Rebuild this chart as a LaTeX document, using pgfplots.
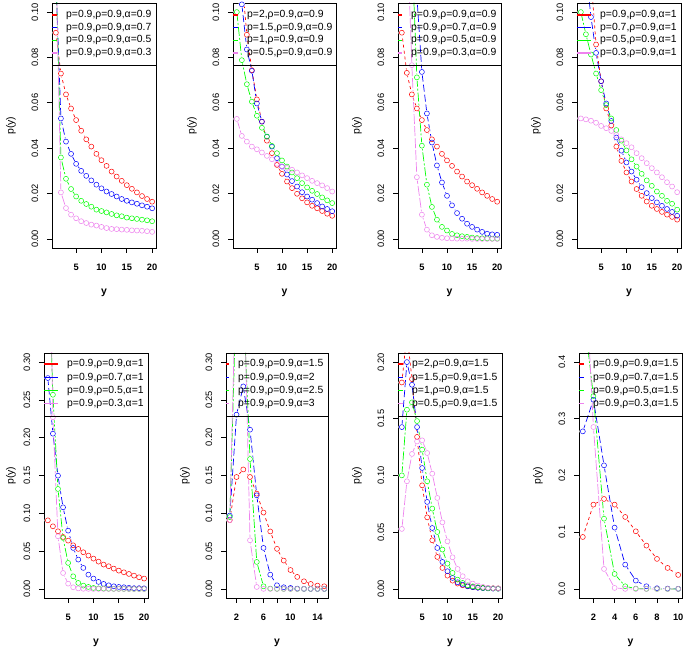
\documentclass[border=0pt]{standalone}
\usepackage{fontspec}
\setmainfont{Liberation Sans}
\usepackage{pgfplots}
\usepackage{pgfplotstable}
\pgfplotsset{compat=1.18}

\definecolor{rred}{HTML}{FF0000}
\definecolor{rblue}{HTML}{0000FF}
\definecolor{rgreen}{HTML}{00FF00}
\definecolor{rviolet}{HTML}{EE82EE}

\pgfplotstableread{
x a b c d
1 0.0909 0.115 0.12 0.125
2 0.0729 0.0531 0.0359 0.0205
3 0.0637 0.0429 0.0265 0.0136
4 0.0575 0.0375 0.0220 0.0107
5 0.0524 0.0331 0.0187 0.0091
6 0.0477 0.0300 0.0168 0.0078
7 0.0439 0.0278 0.0154 0.0070
8 0.0407 0.0258 0.0142 0.0063
9 0.0375 0.0239 0.0129 0.0059
10 0.0347 0.0223 0.0123 0.0053
11 0.0322 0.0209 0.0117 0.0048
12 0.0297 0.0198 0.0110 0.0044
13 0.0275 0.0187 0.0104 0.0043
14 0.0256 0.0176 0.0100 0.0041
15 0.0237 0.0168 0.0094 0.0040
16 0.0221 0.0161 0.0091 0.0038
17 0.0205 0.0155 0.0088 0.0037
18 0.0189 0.0148 0.0085 0.0036
19 0.0176 0.0142 0.0082 0.0034
20 0.0164 0.0135 0.0078 0.0031
}\tA

\pgfplotstableread{
x a b c d
1 0.14 0.125 0.100 0.0529
2 0.115 0.1034 0.0788 0.0454
3 0.090 0.0835 0.0682 0.0429
4 0.0744 0.0741 0.0605 0.0407
5 0.0615 0.0597 0.0543 0.0395
6 0.0517 0.0517 0.0490 0.0381
7 0.0433 0.0451 0.0451 0.0366
8 0.0378 0.0407 0.0410 0.0351
9 0.0326 0.0356 0.0378 0.0331
10 0.0287 0.0319 0.0346 0.0319
11 0.0253 0.0284 0.0319 0.0313
12 0.0224 0.0255 0.0293 0.0305
13 0.0199 0.0231 0.0268 0.0293
14 0.0179 0.0206 0.0246 0.0280
15 0.0161 0.0187 0.0227 0.0268
16 0.0146 0.0173 0.0212 0.0256
17 0.0135 0.0158 0.0198 0.0246
18 0.0123 0.0143 0.0183 0.0236
19 0.0111 0.0132 0.0170 0.0224
20 0.0102 0.0122 0.0158 0.0209
}\tB

\pgfplotstableread{
x a b c d
1 0.0909 0.12 0.13 0.15
2 0.0732 0.14 0.15 0.138
3 0.0637 0.13 0.128 0.0766
4 0.0575 0.107 0.0712 0.0272
5 0.0524 0.0736 0.0411 0.0107
6 0.0480 0.0553 0.0239 0.0041
7 0.0439 0.0425 0.0141 0.0016
8 0.0407 0.0324 0.0085 0.0009
9 0.0375 0.0249 0.0053 0.0005
10 0.0346 0.0190 0.0037 0.0003
11 0.0322 0.0148 0.0022 0.0002
12 0.0297 0.0114 0.0016 0.0001
13 0.0275 0.0089 0.0012 0.0001
14 0.0253 0.0067 0.0009 0.0001
15 0.0237 0.0053 0.0006 0
16 0.0221 0.0041 0.0004 0
17 0.0205 0.0031 0.0003 0
18 0.0190 0.0023 0.0002 0
19 0.0176 0.0020 0.0001 0
20 0.0164 0.0018 0.0001 0
}\tC

\pgfplotstableread{
x a b c d
1 0.16 0.135 0.100 0.0531
2 0.14 0.118 0.0902 0.0527
3 0.115 0.0978 0.0813 0.0521
4 0.0857 0.082 0.0729 0.0512
5 0.0695 0.0695 0.0656 0.0498
6 0.0575 0.0597 0.059 0.0488
7 0.0500 0.0520 0.0531 0.0476
8 0.0407 0.0447 0.048 0.0458
9 0.0344 0.0389 0.0433 0.0439
10 0.0293 0.0337 0.039 0.0422
11 0.0253 0.0297 0.0351 0.0404
12 0.0220 0.0261 0.0319 0.0378
13 0.0190 0.0228 0.0287 0.0356
14 0.0165 0.0202 0.0258 0.0334
15 0.0146 0.0180 0.0234 0.0312
16 0.0132 0.0161 0.0209 0.0293
17 0.0119 0.0146 0.0190 0.0272
18 0.0107 0.0132 0.0168 0.0250
19 0.0097 0.0119 0.0155 0.0231
20 0.0085 0.0102 0.0129 0.0206
}\tD

\pgfplotstableread{
x a b c d
1 0.0907 0.2789 0.45 0.6
2 0.0828 0.2053 0.2568 0.227
3 0.0762 0.1498 0.1322 0.0696
4 0.0687 0.1079 0.0674 0.0211
5 0.0639 0.0771 0.0344 0.0070
6 0.0577 0.0542 0.0167 0.0022
7 0.0529 0.0388 0.0079 0.0007
8 0.0485 0.0278 0.0044 0.0002
9 0.0441 0.0189 0.0026 0.0001
10 0.0401 0.0137 0.0013 0
11 0.0361 0.0093 0.0007 0
12 0.0322 0.0066 0.0004 0
13 0.0300 0.0048 0.0002 0
14 0.0269 0.0035 0.0001 0
15 0.0242 0.0026 0.0001 0
16 0.0220 0.0022 0 0
17 0.0198 0.0015 0 0
18 0.0176 0.0010 0 0
19 0.0154 0.0010 0 0
20 0.0137 0.0008 0 0
}\tE

\pgfplotstableread{
x a b c d
1 0.091 0.097 0.095 0.091
2 0.148 0.2304 0.40 0.45
3 0.158 0.2678 0.38 0.45
4 0.148 0.2106 0.1718 0.0643
5 0.126 0.1238 0.0357 0.0026
6 0.101 0.0542 0.0035 0.0001
7 0.076 0.0189 0.0004 0
8 0.053 0.0048 0.0001 0
9 0.0375 0.0022 0 0
10 0.025 0.0013 0 0
11 0.0159 0.0004 0 0
12 0.0101 0.0001 0 0
13 0.0066 0 0 0
14 0.0044 0 0 0
15 0.0035 0 0 0
}\tF

\pgfplotstableread{
x a b c d
1 0.182 0.1427 0.1001 0.0529
2 0.225 0.2000 0.158 0.0949
3 0.185 0.180 0.1645 0.119
4 0.134 0.1427 0.148 0.130
5 0.0913 0.1066 0.1228 0.131
6 0.0631 0.0767 0.0949 0.1198
7 0.0429 0.0537 0.0708 0.1016
8 0.0282 0.0361 0.0502 0.0802
9 0.0185 0.0238 0.0347 0.0587
10 0.0117 0.0156 0.0223 0.042
11 0.0073 0.0097 0.0141 0.0279
12 0.0047 0.0059 0.0082 0.0176
13 0.0032 0.0038 0.0053 0.0112
14 0.0023 0.0023 0.0032 0.0068
15 0.0015 0.0015 0.0023 0.0047
16 0.0012 0.0010 0.0015 0.0030
17 0.0009 0.0007 0.0009 0.0018
18 0.0007 0.0005 0.0006 0.0010
19 0.0006 0.0003 0.0004 0.0006
20 0.0005 0.0002 0.0002 0.0004
}\tG

\pgfplotstableread{
x a b c d
1 0.0916 0.2778 0.5 0.65
2 0.1486 0.3336 0.34 0.2855
3 0.1586 0.2179 0.1239 0.0352
4 0.1486 0.1081 0.0264 0.0018
5 0.1269 0.0429 0.0047 0.0001
6 0.1016 0.0147 0.0006 0
7 0.0764 0.0047 0.0001 0
8 0.0529 0.0012 0 0
9 0.037 0.0006 0 0
10 0.0247 0.0002 0 0
}\tH

\newcommand{\fourseries}[1]{%
  \addplot[rred, line width=0.7pt, dash pattern=on 3pt off 3pt] table[x=x,y=a]{#1};
  \addplot[rblue, line width=0.7pt, dash pattern=on 7pt off 3pt] table[x=x,y=b]{#1};
  \addplot[rgreen, line width=0.7pt, dash pattern=on 9pt off 2pt on 2pt off 2pt] table[x=x,y=c]{#1};
  \addplot[rviolet, line width=0.7pt, dash pattern=on 10pt off 2pt] table[x=x,y=d]{#1};
  \addplot[white, only marks, mark=*, mark size=3.3pt, mark options={draw=white, fill=white, line width=0.2pt}] table[x=x,y=a]{#1};
  \addplot[white, only marks, mark=*, mark size=3.3pt, mark options={draw=white, fill=white, line width=0.2pt}] table[x=x,y=b]{#1};
  \addplot[white, only marks, mark=*, mark size=3.3pt, mark options={draw=white, fill=white, line width=0.2pt}] table[x=x,y=c]{#1};
  \addplot[white, only marks, mark=*, mark size=3.3pt, mark options={draw=white, fill=white, line width=0.2pt}] table[x=x,y=d]{#1};
  \addplot[only marks, mark=o, mark size=2.5pt, rred, mark options={solid, line width=0.5pt}] table[x=x,y=a]{#1};
  \addplot[only marks, mark=o, mark size=2.5pt, rblue, mark options={solid, line width=0.5pt}] table[x=x,y=b]{#1};
  \addplot[only marks, mark=o, mark size=2.5pt, rgreen, mark options={solid, line width=0.5pt}] table[x=x,y=c]{#1};
  \addplot[only marks, mark=o, mark size=2.5pt, rviolet, mark options={solid, line width=0.5pt}] table[x=x,y=d]{#1};
}

% legend: #1 box left, #2 box right, #3 text x, #4 row, #5-#8 labels
\newcommand{\rlegend}[8]{%
  \ifnum#4=1
    \def\la{635}\def\lb{622.3}\def\lc{609.6}\def\ld{596.9}\def\lbot{585}%
  \else
    \def\la{286}\def\lb{272.5}\def\lc{259.5}\def\ld{246.5}\def\lbot{234}%
  \fi
  \pgfmathsetmacro\sl{max(#1,#3-29)}%
  \pgfmathsetmacro\sr{#3-9}%
  \draw[line width=0.75pt] (#1pt,\lbot pt) -- (#2pt,\lbot pt);
  \draw[rred, line width=1.6pt] (\sl pt,\la pt) -- (\sr pt,\la pt);
  \draw[rblue, line width=1.6pt] (\sl pt,\lb pt) -- (\sr pt,\lb pt);
  \draw[rgreen, line width=1.6pt] (\sl pt,\lc pt) -- (\sr pt,\lc pt);
  \draw[rviolet, line width=1.6pt] (\sl pt,\ld pt) -- (\sr pt,\ld pt);
  \node[anchor=west, inner sep=0pt, font=\fontsize{10.4}{12}\selectfont] at (#3pt,\la pt) {#5};
  \node[anchor=west, inner sep=0pt, font=\fontsize{10.4}{12}\selectfont] at (#3pt,\lb pt) {#6};
  \node[anchor=west, inner sep=0pt, font=\fontsize{10.4}{12}\selectfont] at (#3pt,\lc pt) {#7};
  \node[anchor=west, inner sep=0pt, font=\fontsize{10.4}{12}\selectfont] at (#3pt,\ld pt) {#8};
}

\pgfplotsset{
  rbase/.style={
    scale only axis, height=245pt, clip=true, axis on top,
    anchor=south west,
    axis line style={line width=0.75pt, black},
    tick align=outside, major tick length=5pt,
    xtick pos=left, ytick pos=left,
    every tick/.style={black, line width=0.75pt},
    yticklabel style={rotate=90, anchor=center, inner sep=0pt, font=\fontsize{9.3}{10}\selectfont},
    xticklabel style={anchor=center, inner sep=0pt, font=\bfseries\fontsize{9.3}{10}\selectfont},
    yticklabel shift=12pt, xticklabel shift=14pt,
    xlabel={y}, ylabel={p(y)},
    every axis x label/.style={at={(rel axis cs:0.5,0)}, yshift=-45pt, anchor=center, font=\bfseries\fontsize{10.4}{12}\selectfont},
    every axis y label/.style={at={(rel axis cs:0,0.5)}, xshift=-41pt, rotate=90, anchor=center, font=\fontsize{10.4}{12}\selectfont},
  },
  top/.style={rbase, ymin=-0.004, ymax=0.104, ytick={0,0.02,0.04,0.06,0.08,0.1},
    yticklabels={0.00,0.02,0.04,0.06,0.08,0.10}},
  x20/.style={xmin=0.24, xmax=20.76, xtick={5,10,15,20}, xticklabels={5,10,15,20}},
}

\begin{document}
\begin{tikzpicture}
\path[use as bounding box] (0,0) rectangle (685pt,650pt);
\clip (0,0) rectangle (685pt,650pt);

% ---------- row 1 ----------
\begin{axis}[top, x20, width=104pt, at={(52pt,402pt)}]
\fourseries{\tA}
\end{axis}
\rlegend{52}{156}{66}{1}{p=0.9,ρ=0.9,α=0.9}{p=0.9,ρ=0.9,α=0.7}{p=0.9,ρ=0.9,α=0.5}{p=0.9,ρ=0.9,α=0.3}

\begin{axis}[top, x20, width=103pt, at={(233pt,402pt)}]
\fourseries{\tB}
\end{axis}
\rlegend{233}{336}{247}{1}{p=2,ρ=0.9,α=0.9}{p=1.5,ρ=0.9,α=0.9}{p=1,ρ=0.9,α=0.9}{p=0.5,ρ=0.9,α=0.9}

\begin{axis}[top, x20, width=103pt, at={(398pt,402pt)}]
\fourseries{\tC}
\end{axis}
\rlegend{398}{501}{411}{1}{p=0.9,ρ=0.9,α=0.9}{p=0.9,ρ=0.7,α=0.9}{p=0.9,ρ=0.5,α=0.9}{p=0.9,ρ=0.3,α=0.9}

\begin{axis}[top, x20, width=104pt, at={(577pt,402pt)}]
\fourseries{\tD}
\end{axis}
\rlegend{577}{681}{600}{1}{p=0.9,ρ=0.9,α=1}{p=0.7,ρ=0.9,α=1}{p=0.5,ρ=0.9,α=1}{p=0.3,ρ=0.9,α=1}

% ---------- row 2 ----------
\begin{axis}[rbase, x20, width=104pt, at={(44pt,52pt)},
  every axis y label/.style={at={(rel axis cs:0,0.5)}, xshift=-33pt, rotate=90, anchor=center, font=\fontsize{10.4}{12}\selectfont},
  ymin=-0.012, ymax=0.312, ytick={0,0.05,0.1,0.15,0.2,0.25,0.3},
  yticklabels={0.00,0.05,0.10,0.15,0.20,0.25,0.30}]
\fourseries{\tE}
\end{axis}
\rlegend{44}{148}{67}{2}{p=0.9,ρ=0.9,α=1}{p=0.9,ρ=0.7,α=1}{p=0.9,ρ=0.5,α=1}{p=0.9,ρ=0.3,α=1}

\begin{axis}[rbase, width=102pt, at={(226pt,52pt)},
  xmin=0.44, xmax=15.56, xtick={2,4,6,8,10,12,14}, xticklabels={2,,6,,10,,14},
  ymin=-0.012, ymax=0.312, ytick={0,0.05,0.1,0.15,0.2,0.25,0.3},
  yticklabels={0.00,0.05,0.10,0.15,0.20,0.25,0.30}]
\fourseries{\tF}
\end{axis}
\rlegend{226}{328}{238}{2}{p=0.9,ρ=0.9,α=1.5}{p=0.9,ρ=0.9,α=2}{p=0.9,ρ=0.9,α=2.5}{p=0.9,ρ=0.9,α=3}

\begin{axis}[rbase, x20, width=104pt, at={(398pt,52pt)},
  ymin=-0.008, ymax=0.208, ytick={0,0.05,0.1,0.15,0.2},
  yticklabels={0.00,0.05,0.10,0.15,0.20}]
\fourseries{\tG}
\end{axis}
\rlegend{398}{502}{412}{2}{p=2,ρ=0.9,α=1.5}{p=1.5,ρ=0.9,α=1.5}{p=1,ρ=0.9,α=1.5}{p=0.5,ρ=0.9,α=1.5}

\begin{axis}[rbase, width=103pt, at={(579pt,52pt)},
  xmin=0.64, xmax=10.36, xtick={2,4,6,8,10}, xticklabels={2,4,6,8,10},
  ymin=-0.016, ymax=0.416, ytick={0,0.1,0.2,0.3,0.4},
  yticklabels={0.0,0.1,0.2,0.3,0.4}]
\fourseries{\tH}
\end{axis}
\rlegend{579}{682}{593}{2}{p=0.9,ρ=0.9,α=1.5}{p=0.9,ρ=0.7,α=1.5}{p=0.9,ρ=0.5,α=1.5}{p=0.9,ρ=0.3,α=1.5}

\end{tikzpicture}
\end{document}
